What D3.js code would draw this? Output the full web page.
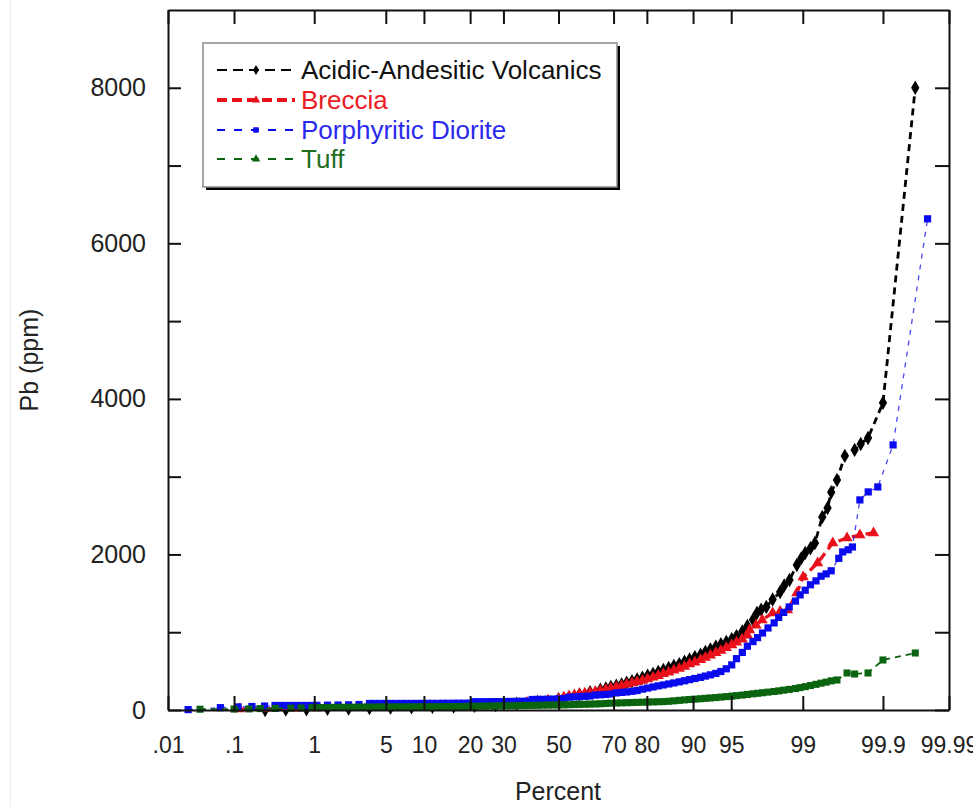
<!DOCTYPE html>
<html>
<head>
<meta charset="utf-8">
<script src="https://cdn.jsdelivr.net/npm/d3@7"></script>
<style>
  body { margin: 0; background: #fff; }
  svg { display: block; font-family: "Liberation Sans", Arial, sans-serif; }
</style>
</head>
<body>
<div id="chart"></div>
<script>
// cumulative percent, Pb ppm
const volcanics = [
  [0.26, 0], [0.47, 5], [0.82, 10], [1.39, 15], [2.28, 20], [3.59, 25], [5.48, 30], [8.08, 35], [11.5, 40],
  [15.9, 45], [21.2, 55], [27.4, 65], [34.5, 80], [42.1, 105], [50, 140], [57.9, 200], [61.8, 230], [65.5, 260],
  [67.4, 278], [69.1, 295], [70.9, 312], [72.6, 330], [74.2, 350], [75.8, 370], [77.3, 392], [78.8, 415],
  [80.2, 440], [81.6, 465], [82.9, 490], [84.1, 515], [85.3, 540], [86.4, 565], [87.5, 590], [88.5, 620],
  [89.4, 650], [90.3, 680], [91.2, 710], [91.9, 745], [92.6, 780], [93.3, 815], [93.9, 845], [94.5, 875],
  [95.05, 910], [95.5, 950], [96.0, 1010], [96.4, 1080], [96.8, 1160],
  [97.06, 1248], [97.32, 1290], [97.61, 1325], [97.93, 1420], [98.26, 1518], [98.42, 1600], [98.61, 1672],
  [98.84, 1865], [98.96, 1950], [99.06, 2019], [99.18, 2080], [99.27, 2148], [99.40, 2482], [99.48, 2598],
  [99.53, 2800], [99.60, 2958], [99.68, 3267], [99.76, 3344], [99.80, 3420], [99.84, 3498], [99.90, 3949],
  [99.966, 8000]
];

const breccia = [
  [0.118, 13], [0.26, 18], [0.62, 22], [1.07, 26], [1.79, 28], [2.87, 30], [4.46, 32], [6.68, 34], [9.68, 38],
  [13.6, 42], [18.4, 50], [24.2, 60], [30.9, 75], [38.2, 95], [46.0, 125], [50, 140],
  [52.0, 165], [54.0, 180], [56.0, 192], [57.9, 205], [59.9, 215], [61.8, 225], [63.7, 238], [65.5, 250],
  [67.4, 265], [69.1, 280], [70.9, 295], [72.6, 312], [74.2, 330], [75.8, 348], [77.3, 362], [78.8, 378],
  [80.2, 400], [81.6, 420], [82.9, 442], [84.1, 465], [85.3, 485], [86.4, 510], [87.5, 535], [88.5, 560],
  [89.4, 590], [90.3, 615], [91.2, 645], [91.9, 675], [92.6, 705], [93.3, 735], [93.9, 765], [94.5, 800],
  [95.05, 835], [95.5, 870], [96.0, 910], [96.4, 960],
  [96.56, 1029], [97.0, 1090], [97.38, 1158], [97.93, 1248], [98.26, 1265], [98.54, 1286], [98.84, 1505],
  [99.01, 1710], [99.32, 1890], [99.55, 2148], [99.70, 2212], [99.795, 2250], [99.865, 2277]
];

const diorite = [
  [0.021, 5], [0.064, 30], [0.114, 40], [0.175, 45], [0.256, 50],
  [0.347, 58], [0.402, 58], [0.466, 58], [0.539, 58], [0.621, 58], [0.714, 58], [0.82, 58], [0.939, 58], [1.07, 60],
  [1.39, 62], [1.79, 64], [2.28, 66], [2.87, 70],
  [3.59, 84], [4.01, 84], [4.46, 84], [4.95, 84], [5.48, 84], [6.06, 84], [6.68, 84], [7.35, 84], [8.08, 84],
  [8.85, 84], [9.68, 85], [10.6, 85], [11.5, 85], [12.5, 85], [13.6, 86], [14.7, 86], [15.9, 86], [17.1, 87],
  [18.4, 87], [19.8, 88],
  [21.2, 106], [22.7, 106], [24.2, 107], [25.8, 107], [27.4, 108], [29.1, 108], [30.9, 109], [32.6, 110],
  [34.5, 111], [36.3, 112], [38.2, 113],
  [40.1, 135], [42.1, 136], [44.0, 137], [46.0, 138], [48.0, 140], [50, 142], [52.0, 146],
  [54.0, 165], [56.0, 168], [57.9, 172], [59.9, 176], [61.8, 180],
  [63.7, 192], [65.5, 196], [67.4, 200], [69.1, 206],
  [70.9, 220], [72.6, 226], [74.2, 232], [75.8, 240], [77.3, 250],
  [78.8, 268], [80.2, 282], [81.6, 296], [82.9, 310], [84.1, 322], [85.3, 335], [86.4, 348], [87.5, 362],
  [88.5, 376], [89.4, 390], [90.3, 405], [91.2, 420], [91.9, 436], [92.6, 452], [93.3, 470], [93.9, 495],
  [94.5, 530], [95.05, 580], [95.5, 660], [96.0, 740], [96.4, 820], [96.8, 880], [97.1, 930], [97.4, 990],
  [97.7, 1055], [98.0, 1120], [98.2, 1190], [98.4, 1255], [98.6, 1325], [98.8, 1400], [98.93, 1480],
  [99.06, 1540], [99.18, 1610], [99.29, 1660], [99.38, 1720], [99.46, 1750], [99.53, 1790],
  [99.62, 1950], [99.66, 2032], [99.71, 2060], [99.744, 2096], [99.795, 2701], [99.841, 2804], [99.882, 2868],
  [99.928, 3408], [99.978, 6315]
];

const tuff = [
  [0.032, 10], [0.10, 12], [0.16, 14], [0.225, 18], [0.35, 20], [0.54, 24], [0.71, 26],
  [0.94, 30], [1.07, 30], [1.22, 32], [1.39, 32], [1.58, 34], [1.79, 34], [2.02, 35], [2.28, 35], [2.56, 36],
  [2.87, 36], [3.22, 37], [3.59, 37], [4.01, 38], [4.46, 38], [4.95, 39], [5.48, 39], [6.06, 40], [6.68, 40],
  [7.35, 40], [8.08, 41], [8.85, 41], [9.68, 42], [10.6, 42], [11.5, 43], [12.5, 43], [13.6, 44], [14.7, 44],
  [15.9, 45], [17.1, 45], [18.4, 46], [19.8, 47], [21.2, 48], [22.7, 49], [24.2, 50], [25.8, 51], [27.4, 52],
  [29.1, 53], [30.9, 54], [32.6, 55], [34.5, 56], [36.3, 57], [38.2, 58], [40.1, 59], [42.1, 60], [44.0, 62],
  [46.0, 63], [48.0, 64], [50, 65], [52.0, 66], [54.0, 68], [56.0, 70], [57.9, 72], [59.9, 74], [61.8, 76],
  [63.7, 78], [65.5, 80], [67.4, 84], [69.1, 88], [70.9, 90], [72.6, 92], [74.2, 94], [75.8, 96], [77.3, 98],
  [78.8, 100], [80.2, 102], [81.6, 104], [82.9, 106], [84.1, 108], [85.3, 112], [86.4, 118], [87.5, 124],
  [88.5, 130], [89.4, 135], [90.3, 140], [91.2, 145], [91.9, 150], [92.6, 155], [93.3, 160], [93.9, 166],
  [94.5, 172], [95.05, 178], [95.5, 185], [96.0, 192], [96.4, 200], [96.8, 208], [97.1, 215], [97.4, 222],
  [97.7, 230], [98.0, 238], [98.2, 246], [98.4, 255], [98.6, 265], [98.8, 276], [98.93, 288], [99.06, 300],
  [99.18, 315], [99.29, 330], [99.38, 345], [99.46, 358], [99.53, 375], [99.6, 386],
  [99.70, 476], [99.76, 463], [99.84, 476], [99.90, 643], [99.966, 733]
];

const seriesNames = ['Acidic-Andesitic Volcanics', 'Breccia', 'Porphyritic Diorite', 'Tuff'];
const percentTicks = [0.01, 0.1, 1, 5, 10, 20, 30, 50, 70, 80, 90, 95, 99, 99.9, 99.99];
const percentLabels = ['.01', '.1', '1', '5', '10', '20', '30', '50', '70', '80', '90', '95', '99', '99.9', '99.99'];
const ppmTicks = [0, 1000, 2000, 3000, 4000, 5000, 6000, 7000, 8000];

const W = 973, H = 807;
const plot = { left: 168, right: 949, top: 10, bottom: 710 };

// inverse normal cdf (Acklam) for the probability axis
function probit(p) {
  const a = [-3.969683028665376e+01, 2.209460984245205e+02, -2.759285104469687e+02, 1.383577518672690e+02, -3.066479806614716e+01, 2.506628277459239e+00];
  const b = [-5.447609879822406e+01, 1.615858368580409e+02, -1.556989798598866e+02, 6.680131188771972e+01, -1.328068155288572e+01];
  const c = [-7.784894002430293e-03, -3.223964580411365e-01, -2.400758277161838e+00, -2.549732539343734e+00, 4.374664141464968e+00, 2.938163982698783e+00];
  const d = [7.784695709041462e-03, 3.224671290700398e-01, 2.445134137142996e+00, 3.754408661907416e+00];
  const pl = 0.02425;
  let q, r;
  if (p < pl) {
    q = Math.sqrt(-2 * Math.log(p));
    return (((((c[0] * q + c[1]) * q + c[2]) * q + c[3]) * q + c[4]) * q + c[5]) / ((((d[0] * q + d[1]) * q + d[2]) * q + d[3]) * q + 1);
  }
  if (p > 1 - pl) {
    q = Math.sqrt(-2 * Math.log(1 - p));
    return -(((((c[0] * q + c[1]) * q + c[2]) * q + c[3]) * q + c[4]) * q + c[5]) / ((((d[0] * q + d[1]) * q + d[2]) * q + d[3]) * q + 1);
  }
  q = p - 0.5; r = q * q;
  return (((((a[0] * r + a[1]) * r + a[2]) * r + a[3]) * r + a[4]) * r + a[5]) * q / (((((b[0] * r + b[1]) * r + b[2]) * r + b[3]) * r + b[4]) * r + 1);
}

const svg = d3.select('#chart').append('svg')
  .attr('width', W).attr('height', H);

// faint page edge on the left
svg.append('line').attr('x1', 10.5).attr('x2', 10.5).attr('y1', 0).attr('y2', H)
  .attr('stroke', '#ececec').attr('stroke-width', 1);

const xScale = d3.scaleLinear()
  .domain([probit(0.0001), probit(0.9999)])
  .range([plot.left, plot.right]);
const yScale = d3.scaleLinear()
  .domain([0, 9000])
  .range([plot.bottom, plot.top]);

const px = p => xScale(probit(p / 100));
const zTicks = percentTicks.map(p => probit(p / 100));

const styles = [
  { data: volcanics, color: '#000000', text: '#111111', width: 2.8, dash: '7,5', symbol: d3.symbolDiamond, size: 60, lw: 2, ldash: '10,6' },
  { data: breccia, color: '#e8101a', text: '#ec1c24', width: 3.2, dash: '9,5', symbol: d3.symbolTriangle, size: 55, lw: 4, ldash: '10,5' },
  { data: diorite, color: '#0a0aee', text: '#2a2aee', width: 1.3, dash: '5,6', symbol: d3.symbolSquare, size: 52, lw: 2, ldash: '8,9' },
  { data: tuff, color: '#0b640f', text: '#1f6e1f', width: 1.8, dash: '6,5', symbol: d3.symbolSquare, size: 50, lw: 2, ldash: '8,9' }
];

const line = d3.line()
  .x(d => px(d[0]))
  .y(d => yScale(d[1]));

styles.forEach(s => {
  const g = svg.append('g');
  g.append('path')
    .datum(s.data)
    .attr('d', line)
    .attr('fill', 'none')
    .attr('stroke', s.color)
    .attr('stroke-width', s.width)
    .attr('stroke-dasharray', s.dash)
    .attr('stroke-opacity', s.data === diorite ? 0.75 : 1);

  g.selectAll('.pt')
    .data(s.data)
    .enter()
    .append('path')
    .attr('class', 'pt')
    .attr('transform', d => `translate(${px(d[0])}, ${yScale(d[1])})`)
    .attr('d', d3.symbol().type(s.symbol).size(s.size))
    .attr('fill', s.color);
});

// axes, ticks pointing inward
const axisStyle = g => {
  g.selectAll('.domain').attr('stroke', '#111').attr('stroke-width', 2);
  g.selectAll('.tick line').attr('stroke', '#111').attr('stroke-width', 2);
};

svg.append('g')
  .attr('transform', `translate(0, ${plot.bottom})`)
  .call(d3.axisBottom(xScale).tickValues(zTicks).tickFormat((d, i) => percentLabels[i])
    .tickSizeInner(-14).tickSizeOuter(0).tickPadding(27))
  .call(axisStyle)
  .call(g => g.selectAll('text').attr('font-size', 23).attr('fill', '#222')
    .attr('font-family', '"Liberation Sans", Arial, sans-serif'));

svg.append('g')
  .attr('transform', `translate(0, ${plot.top})`)
  .call(d3.axisTop(xScale).tickValues(zTicks).tickFormat('')
    .tickSizeInner(-14).tickSizeOuter(0))
  .call(axisStyle);

svg.append('g')
  .attr('transform', `translate(${plot.left}, 0)`)
  .call(d3.axisLeft(yScale).tickValues(ppmTicks)
    .tickFormat(d => (d % 2000 === 0 ? d : ''))
    .tickSizeInner(-13).tickSizeOuter(0).tickPadding(22))
  .call(axisStyle)
  .call(g => g.selectAll('text').attr('font-size', 25).attr('fill', '#222')
    .attr('font-family', '"Liberation Sans", Arial, sans-serif'));

svg.append('g')
  .attr('transform', `translate(${plot.right}, 0)`)
  .call(d3.axisRight(yScale).tickValues(ppmTicks).tickFormat('')
    .tickSizeInner(-14).tickSizeOuter(0))
  .call(axisStyle);

// axis titles
svg.append('text')
  .attr('transform', 'translate(38, 360) rotate(-90)')
  .attr('text-anchor', 'middle')
  .attr('font-size', 25)
  .attr('fill', '#222')
  .text('Pb (ppm)');

svg.append('text')
  .attr('x', 558)
  .attr('y', 800)
  .attr('text-anchor', 'middle')
  .attr('font-size', 25)
  .attr('fill', '#222')
  .text('Percent');

// legend
const legend = svg.append('g');
legend.append('rect')
  .attr('x', 206).attr('y', 46).attr('width', 414).attr('height', 144)
  .attr('fill', '#000');
legend.append('rect')
  .attr('x', 203).attr('y', 43).attr('width', 414).attr('height', 144)
  .attr('fill', '#fff').attr('stroke', '#8a8a8a').attr('stroke-width', 1.5);

const rowY = [70, 100, 130, 159];
styles.forEach((s, i) => {
  const row = legend.append('g').attr('transform', `translate(0, ${rowY[i]})`);
  row.append('line')
    .attr('x1', 217).attr('x2', 295).attr('y1', 0).attr('y2', 0)
    .attr('stroke', s.color).attr('stroke-width', s.lw)
    .attr('stroke-dasharray', s.ldash);
  row.append('path')
    .attr('transform', 'translate(256, 0)')
    .attr('d', d3.symbol().type(i === 3 ? d3.symbolTriangle : s.symbol).size(30))
    .attr('fill', s.color);
  row.append('text')
    .attr('x', 301).attr('y', 0).attr('dy', '0.36em')
    .attr('font-size', 26)
    .attr('fill', s.text)
    .text(seriesNames[i]);
});
</script>
</body>
</html>
